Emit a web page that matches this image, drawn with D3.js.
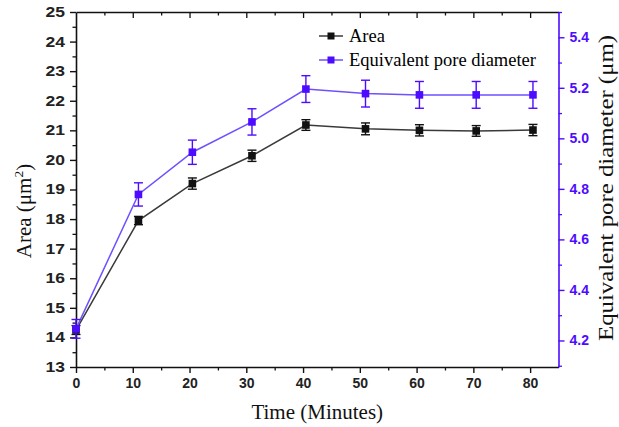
<!DOCTYPE html>
<html>
<head>
<meta charset="utf-8">
<script src="https://cdn.jsdelivr.net/npm/d3@7"></script>
<style>
  html, body { margin: 0; padding: 0; background: #fff; }
  svg { display: block; }
</style>
</head>
<body>
<svg id="chart" width="619" height="427"></svg>
<script>
// ---- data ----
const times = [0, 11, 20.5, 31, 40.5, 51, 60.5, 70.5, 80.5];
const area = [14.25, 17.95, 19.2, 20.14, 21.18, 21.05, 21.0, 20.98, 21.01];
const areaErr = [0.15, 0.14, 0.19, 0.19, 0.18, 0.2, 0.19, 0.18, 0.19];
const diameter = [4.246, 4.778, 4.945, 5.065, 5.195, 5.177, 5.172, 5.172, 5.172];
const diameterErr = [0.037, 0.046, 0.048, 0.052, 0.053, 0.053, 0.053, 0.053, 0.053];
const xTicks = [0, 10, 20, 30, 40, 50, 60, 70, 80];
const yLeftTicks = [13, 14, 15, 16, 17, 18, 19, 20, 21, 22, 23, 24, 25];
const yRightTicks = [4.2, 4.4, 4.6, 4.8, 5.0, 5.2, 5.4];
const seriesNames = ["Area", "Equivalent pore diameter"];
const xTitle = "Time (Minutes)";
const yLeftTitle = "Area (\u03bcm";
const yRightTitle = "Equivalent pore diameter (\u03bcm)";

// ---- layout ----
const L = 76, R = 558.5, T = 12, B = 367;
const black = "#111", blackLine = "#3a3a3a";
const purple = "#4d0cff", purpleLine = "#6e50ff";
const serif = "'Liberation Serif', 'Times New Roman', serif";
const sans = "'Liberation Sans', Arial, sans-serif";

const svg = d3.select("#chart");
const x = d3.scaleLinear().domain([0, 85]).range([L, R]);
const yL = d3.scaleLinear().domain([13, 25]).range([B, T]);
const yR = d3.scaleLinear().domain([4.095, 5.5]).range([B, T]);

// minor ticks helpers
const xMinor = d3.range(5, 85, 10);
const yLMinor = d3.range(13.5, 25, 1);
const yRMinor = d3.range(4.1, 5.5, 0.2).map(v => +v.toFixed(2));

function styleAxis(g, color, fontColor, size) {
  g.select(".domain").attr("stroke", color).attr("stroke-width", 1.6);
  g.selectAll(".tick line").attr("stroke", color).attr("stroke-width", 1.4);
  g.selectAll(".tick text").attr("fill", fontColor).attr("font-family", sans)
    .attr("font-weight", "bold").attr("font-size", size);
}

// bottom axis
const gx = svg.append("g").attr("transform", `translate(0,${B})`)
  .call(d3.axisBottom(x).tickValues(xTicks).tickSize(6).tickSizeOuter(0).tickPadding(4).tickFormat(d3.format("d")));
styleAxis(gx, black, "#222", 14);
gx.selectAll(".tick text").attr("dy", "0.75em");
svg.append("g").attr("transform", `translate(0,${B})`)
  .call(d3.axisBottom(x).tickValues(xMinor).tickSize(3.5).tickFormat(""))
  .call(g => g.select(".domain").remove())
  .selectAll("line").attr("stroke", black).attr("stroke-width", 1.3);

// top axis (ticks inward)
svg.append("g").attr("transform", `translate(0,${T})`)
  .call(d3.axisBottom(x).tickValues(xTicks.slice(1)).tickSize(6).tickSizeOuter(0).tickFormat(""))
  .call(g => g.select(".domain").attr("stroke", black).attr("stroke-width", 1.6))
  .selectAll(".tick line").attr("stroke", black).attr("stroke-width", 1.3);
svg.append("g").attr("transform", `translate(0,${T})`)
  .call(d3.axisBottom(x).tickValues(xMinor).tickSize(3.5).tickFormat(""))
  .call(g => g.select(".domain").remove())
  .selectAll("line").attr("stroke", black).attr("stroke-width", 1.3);

// left axis
const gyl = svg.append("g").attr("transform", `translate(${L},0)`)
  .call(d3.axisLeft(yL).tickValues(yLeftTicks).tickSize(6).tickSizeOuter(0).tickPadding(5).tickFormat(d3.format("d")));
styleAxis(gyl, black, "#222", 14);
gyl.selectAll(".tick text").attr("transform", "translate(-11,0) scale(1.25,1) translate(11,0)");
svg.append("g").attr("transform", `translate(${L},0)`)
  .call(d3.axisLeft(yL).tickValues(yLMinor).tickSize(3.5).tickFormat(""))
  .call(g => g.select(".domain").remove())
  .selectAll("line").attr("stroke", black).attr("stroke-width", 1.3);

// right axis
const gyr = svg.append("g").attr("transform", `translate(${R},0)`)
  .call(d3.axisRight(yR).tickValues(yRightTicks).tickSize(6).tickSizeOuter(0).tickPadding(5).tickFormat(d3.format(".1f")));
styleAxis(gyr, purple, purple, 14);
svg.append("g").attr("transform", `translate(${R},0)`)
  .call(d3.axisRight(yR).tickValues(yRMinor).tickSize(3.5).tickFormat(""))
  .call(g => g.select(".domain").remove())
  .selectAll("line").attr("stroke", purple).attr("stroke-width", 1.3);

// series drawing
function drawSeries(vals, errs, yScale, lineColor, markColor) {
  const pts = times.map((t, i) => ({ t, v: vals[i], e: errs[i] }));
  const g = svg.append("g");
  g.append("path").datum(pts)
    .attr("fill", "none").attr("stroke", lineColor).attr("stroke-width", 1.5)
    .attr("d", d3.line().x(d => x(d.t)).y(d => yScale(d.v)));
  const eb = g.selectAll(".eb").data(pts).enter().append("g");
  eb.append("line").attr("x1", d => x(d.t)).attr("x2", d => x(d.t))
    .attr("y1", d => yScale(d.v - d.e)).attr("y2", d => yScale(d.v + d.e))
    .attr("stroke", markColor).attr("stroke-width", 1.4);
  [-1, 1].forEach(s => {
    eb.append("line").attr("x1", d => x(d.t) - 4.5).attr("x2", d => x(d.t) + 4.5)
      .attr("y1", d => yScale(d.v + s * d.e)).attr("y2", d => yScale(d.v + s * d.e))
      .attr("stroke", markColor).attr("stroke-width", 1.4);
  });
  g.selectAll(".mk").data(pts).enter().append("rect")
    .attr("x", d => x(d.t) - 3.8).attr("y", d => yScale(d.v) - 3.8)
    .attr("width", 7.6).attr("height", 7.6).attr("fill", markColor);
}
drawSeries(area, areaErr, yL, blackLine, black);
drawSeries(diameter, diameterErr, yR, purpleLine, purple);

// legend
const legend = [
  { name: seriesNames[0], line: blackLine, mark: black, y: 36 },
  { name: seriesNames[1], line: purpleLine, mark: purple, y: 60 }
];
const lg = svg.append("g");
legend.forEach(d => {
  lg.append("line").attr("x1", 319).attr("x2", 343).attr("y1", d.y).attr("y2", d.y)
    .attr("stroke", d.line).attr("stroke-width", 1.5);
  lg.append("rect").attr("x", 331 - 3.5).attr("y", d.y - 3.5).attr("width", 7).attr("height", 7).attr("fill", d.mark);
  lg.append("text").attr("x", 349).attr("y", d.y + 6).text(d.name)
    .attr("font-family", serif).attr("font-size", 18.5).attr("fill", "#000");
});

// axis titles
svg.append("text").attr("x", (L + R) / 2).attr("y", 419).attr("text-anchor", "middle")
  .attr("font-family", serif).attr("font-size", 21).attr("fill", "#111").text(xTitle);

const lt = svg.append("text").attr("transform", "translate(31,211) rotate(-90)")
  .attr("text-anchor", "middle").attr("font-family", serif).attr("font-size", 21).attr("fill", "#111");
lt.append("tspan").text(yLeftTitle);
lt.append("tspan").attr("dy", -8).attr("font-size", 13.5).text("2");
lt.append("tspan").attr("dy", 8).text(")");

svg.append("text").attr("transform", "translate(613,188) rotate(-90)")
  .attr("text-anchor", "middle").attr("font-family", serif).attr("font-size", 20.5)
  .attr("textLength", 306).attr("lengthAdjust", "spacingAndGlyphs")
  .attr("fill", "#111").text(yRightTitle);
</script>
</body>
</html>
